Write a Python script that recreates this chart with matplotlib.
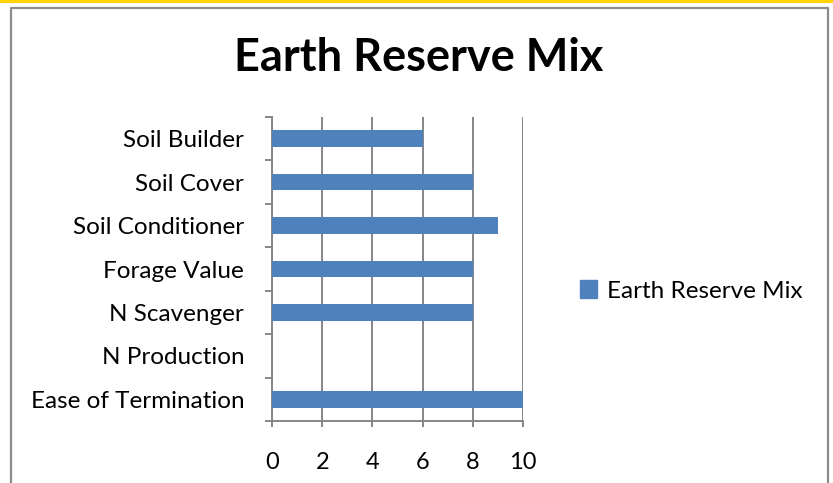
## Horizontal bar chart: Earth Reserve Mix
import numpy as np
import matplotlib.pyplot as plt
from matplotlib.patches import Rectangle
from matplotlib.lines import Line2D

## Data (bottom to top)
categories = ["Ease of Termination", "N Production", "N Scavenger", "Forage Value",
              "Soil Conditioner", "Soil Cover", "Soil Builder"]
values = [10, 0, 8, 8, 9, 8, 6]
series_name = "Earth Reserve Mix"
x_ticks = [0, 2, 4, 6, 8, 10]

W, H = 833, 483
bar_color = "#4F81BD"
grid_color = "#868686"
plt.rcParams['font.family'] = ['Lato', 'DejaVu Sans']

fig = plt.figure(figsize=(W / 100, H / 100), dpi=100)
fig.patch.set_facecolor("white")

## outer decorations: yellow line and chart border
fig.add_artist(Line2D([0, 1], [1 - 1 / H, 1 - 1 / H], color="#FFD200", lw=2.2,
                      transform=fig.transFigure))
fig.add_artist(Line2D([11 / W, 11 / W, 828 / W, 828 / W], [-0.05, 1 - 8 / H, 1 - 8 / H, -0.05],
                      color="#8C8C8C", lw=1.6, transform=fig.transFigure))

## axes
ax = fig.add_axes([272 / W, 1 - 421 / H, (523 - 272) / W, (421 - 117) / H])
y = np.arange(len(categories))
ax.barh(y, values, height=0.38, color=bar_color, zorder=3)
ax.set_xlim(0, 10)
ax.set_ylim(-0.5, len(categories) - 0.5)

ax.set_xticks(x_ticks)
ax.set_xticklabels([str(t) for t in x_ticks])
ax.set_yticks(y)
ax.set_yticklabels(categories)
ax.set_yticks(np.arange(-0.5, len(categories)), minor=True)

ax.tick_params(axis="y", which="major", length=0, pad=20, labelsize=17.5)
ax.tick_params(axis="y", which="minor", length=5, width=1.4, color=grid_color, direction="out")
ax.tick_params(axis="x", which="major", length=4, width=1.4, color=grid_color, pad=18, labelsize=17)

for s in ["top", "right"]:
    ax.spines[s].set_visible(False)
for s in ["left", "bottom"]:
    ax.spines[s].set_color(grid_color)
    ax.spines[s].set_linewidth(1.4)

ax.grid(axis="x", color=grid_color, lw=1.4, zorder=0)
ax.set_axisbelow(True)

## title
fig.text(419 / W, 1 - 71 / H, "Earth Reserve Mix", ha="center", va="baseline",
         fontsize=32.5, fontweight="bold")

## legend
handle = Rectangle((0, 0), 1, 1, color=bar_color)
ax.legend([handle], [series_name], loc="center left", frameon=False,
          bbox_to_anchor=(580 / W, 1 - 291 / H), bbox_transform=fig.transFigure,
          borderpad=0, borderaxespad=0, handlelength=0.7, handleheight=0.7,
          handletextpad=0.4, fontsize=17.5)

plt.savefig("out.png", dpi=100)
